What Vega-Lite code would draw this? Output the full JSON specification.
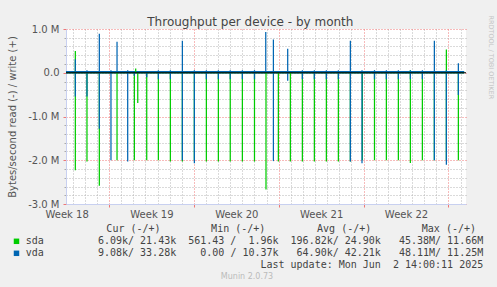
{
  "$schema": "https://vega.github.io/schema/vega-lite/v6.json",
  "background": "#f0f0f0",
  "padding": {"left": 7, "top": 14, "right": 5, "bottom": 6},
  "spacing": 3,
  "title": {"text": "Throughput per device - by month", "font": "DejaVu Sans", "fontSize": 12, "fontWeight": "normal", "color": "#444444", "anchor": "middle", "offset": -14},
  "config": {
    "view": {"stroke": null},
    "axis": {"labelFont": "DejaVu Sans", "labelFontSize": 10, "labelColor": "#555555", "titleFont": "DejaVu Sans", "titleFontSize": 10, "titleFontWeight": "normal", "titleColor": "#555555", "domainColor": "#c8d0f0"}
  },
  "datasets": {
    "base": [
      {"d": -3.55, "s": "sda", "k": "w", "v": 15000}, {"d": 29.3, "s": "sda", "k": "w", "v": 15000},
      {"d": -3.55, "s": "sda", "k": "r", "v": -3000}, {"d": 29.3, "s": "sda", "k": "r", "v": -3000},
      {"d": -3.55, "s": "vda", "k": "w", "v": 28000}, {"d": 29.3, "s": "vda", "k": "w", "v": 28000},
      {"d": -3.55, "s": "vda", "k": "r", "v": -4000}, {"d": 29.3, "s": "vda", "k": "r", "v": -4000}
    ],
    "spikes": [
      {"d": -2.78, "s": "sda", "v": -2230000}, {"d": -1.82, "s": "sda", "v": -2030000}, {"d": -0.8, "s": "sda", "v": -2580000},
      {"d": 0.66, "s": "sda", "v": -2000000}, {"d": 2.09, "s": "sda", "v": -2000000}, {"d": 2.37, "s": "sda", "v": -690000},
      {"d": 3.11, "s": "sda", "v": -2000000}, {"d": 4.07, "s": "sda", "v": -2000000}, {"d": 5.06, "s": "sda", "v": -2030000},
      {"d": 6.05, "s": "sda", "v": -2030000}, {"d": 7.04, "s": "sda", "v": -2000000}, {"d": 8.03, "s": "sda", "v": -2030000},
      {"d": 9.02, "s": "sda", "v": -2030000}, {"d": 10.0, "s": "sda", "v": -2030000}, {"d": 11.0, "s": "sda", "v": -2030000},
      {"d": 12.0, "s": "sda", "v": -2030000}, {"d": 12.95, "s": "sda", "v": -2670000}, {"d": 13.97, "s": "sda", "v": -2030000},
      {"d": 14.96, "s": "sda", "v": -2030000}, {"d": 15.95, "s": "sda", "v": -2030000}, {"d": 16.94, "s": "sda", "v": -2030000},
      {"d": 17.93, "s": "sda", "v": -2030000}, {"d": 18.92, "s": "sda", "v": -2030000}, {"d": 19.91, "s": "sda", "v": -2030000},
      {"d": 20.9, "s": "sda", "v": -2000000}, {"d": 21.9, "s": "sda", "v": -2000000}, {"d": 22.88, "s": "sda", "v": -2000000},
      {"d": 23.87, "s": "sda", "v": -2000000}, {"d": 24.86, "s": "sda", "v": -2060000}, {"d": 25.85, "s": "sda", "v": -2000000},
      {"d": 26.84, "s": "sda", "v": -2000000}, {"d": 27.83, "s": "sda", "v": -2000000}, {"d": 28.82, "s": "sda", "v": -2000000},
      {"d": -2.78, "s": "sda", "v": 500000}, {"d": 2.2, "s": "sda", "v": 100000}, {"d": 24.86, "s": "sda", "v": 60000}, {"d": 27.83, "s": "sda", "v": 530000},
      {"d": -2.78, "s": "vda", "v": -540000}, {"d": -1.82, "s": "vda", "v": -540000}, {"d": -0.8, "s": "vda", "v": -1280000},
      {"d": 0.16, "s": "vda", "v": -2000000}, {"d": 1.54, "s": "vda", "v": -2030000}, {"d": 2.09, "s": "vda", "v": -70000},
      {"d": 3.11, "s": "vda", "v": -100000}, {"d": 4.07, "s": "vda", "v": -150000}, {"d": 5.06, "s": "vda", "v": -150000},
      {"d": 6.05, "s": "vda", "v": -2000000}, {"d": 7.04, "s": "vda", "v": -2070000}, {"d": 8.03, "s": "vda", "v": -150000},
      {"d": 9.02, "s": "vda", "v": -150000}, {"d": 10.0, "s": "vda", "v": -150000}, {"d": 11.0, "s": "vda", "v": -150000},
      {"d": 12.0, "s": "vda", "v": -150000}, {"d": 13.56, "s": "vda", "v": -2020000}, {"d": 14.74, "s": "vda", "v": -180000},
      {"d": 15.95, "s": "vda", "v": -150000}, {"d": 16.94, "s": "vda", "v": -150000}, {"d": 17.93, "s": "vda", "v": -150000},
      {"d": 18.92, "s": "vda", "v": -150000}, {"d": 19.91, "s": "vda", "v": -2030000}, {"d": 20.87, "s": "vda", "v": -2070000},
      {"d": 21.9, "s": "vda", "v": -150000}, {"d": 22.88, "s": "vda", "v": -150000}, {"d": 23.87, "s": "vda", "v": -150000},
      {"d": 24.86, "s": "vda", "v": -150000}, {"d": 25.85, "s": "vda", "v": -150000}, {"d": 26.84, "s": "vda", "v": -2000000},
      {"d": 27.83, "s": "vda", "v": -2100000}, {"d": 28.82, "s": "vda", "v": -510000},
      {"d": -2.78, "s": "vda", "v": 310000}, {"d": -1.82, "s": "vda", "v": 60000}, {"d": -0.8, "s": "vda", "v": 890000},
      {"d": 0.16, "s": "vda", "v": 60000}, {"d": 0.66, "s": "vda", "v": 710000}, {"d": 1.54, "s": "vda", "v": 60000},
      {"d": 4.07, "s": "vda", "v": 60000}, {"d": 5.06, "s": "vda", "v": 60000}, {"d": 6.05, "s": "vda", "v": 730000},
      {"d": 7.04, "s": "vda", "v": 60000}, {"d": 8.03, "s": "vda", "v": 60000}, {"d": 9.02, "s": "vda", "v": 60000},
      {"d": 10.0, "s": "vda", "v": 60000}, {"d": 11.0, "s": "vda", "v": 60000}, {"d": 12.0, "s": "vda", "v": 60000},
      {"d": 12.93, "s": "vda", "v": 930000}, {"d": 13.56, "s": "vda", "v": 760000}, {"d": 14.74, "s": "vda", "v": 550000},
      {"d": 15.95, "s": "vda", "v": 60000}, {"d": 16.94, "s": "vda", "v": 60000}, {"d": 17.93, "s": "vda", "v": 60000},
      {"d": 18.92, "s": "vda", "v": 60000}, {"d": 19.91, "s": "vda", "v": 730000}, {"d": 20.87, "s": "vda", "v": 60000},
      {"d": 21.9, "s": "vda", "v": 60000}, {"d": 22.88, "s": "vda", "v": 60000}, {"d": 23.87, "s": "vda", "v": 60000},
      {"d": 24.86, "s": "vda", "v": 60000}, {"d": 25.85, "s": "vda", "v": 60000}, {"d": 26.84, "s": "vda", "v": 730000},
      {"d": 27.83, "s": "vda", "v": 60000}, {"d": 28.82, "s": "vda", "v": 220000}
    ],
    "legend": [
      {"c": 13.4, "r": 0, "t": "Cur (-/+)", "g": "L"}, {"c": 30.8, "r": 0, "t": "Min (-/+)", "g": "L"},
      {"c": 48.4, "r": 0, "t": "Avg (-/+)", "g": "L"}, {"c": 65.8, "r": 0, "t": "Max (-/+)", "g": "L"},
      {"c": 0, "r": 1, "t": "sda", "g": "L"}, {"c": 0, "r": 2, "t": "vda", "g": "L"},
      {"c": 18, "r": 1, "t": "6.09k/", "g": "R"}, {"c": 25, "r": 1, "t": "21.43k", "g": "R"},
      {"c": 35, "r": 1, "t": "561.43 /", "g": "R"}, {"c": 42, "r": 1, "t": "1.96k", "g": "R"},
      {"c": 52, "r": 1, "t": "196.82k/", "g": "R"}, {"c": 59, "r": 1, "t": "24.90k", "g": "R"},
      {"c": 69, "r": 1, "t": "45.38M/", "g": "R"}, {"c": 76, "r": 1, "t": "11.66M", "g": "R"},
      {"c": 18, "r": 2, "t": "9.08k/", "g": "R"}, {"c": 25, "r": 2, "t": "33.28k", "g": "R"},
      {"c": 35, "r": 2, "t": "0.00 /", "g": "R"}, {"c": 42, "r": 2, "t": "10.37k", "g": "R"},
      {"c": 52, "r": 2, "t": "64.90k/", "g": "R"}, {"c": 59, "r": 2, "t": "42.21k", "g": "R"},
      {"c": 69, "r": 2, "t": "48.11M/", "g": "R"}, {"c": 76, "r": 2, "t": "11.25M", "g": "R"},
      {"c": 59, "r": 3, "t": "Last update: Mon Jun", "g": "R"}, {"c": 76, "r": 3, "t": "2 14:00:11 2025", "g": "R"},
      {"c": -1.53, "r": 1, "s": "sda", "g": "S"}, {"c": -1.53, "r": 2, "s": "vda", "g": "S"},
      {"c": 36.76, "r": 4, "t": "Munin 2.0.73", "g": "M"}
    ]
  },
  "vconcat": [
    {
      "width": 400,
      "height": 175,
      "view": {"fill": "white", "stroke": null},
      "resolve": {"axis": {"x": "independent", "y": "independent"}},
      "layer": [
        {
          "data": {"name": "base"},
          "mark": {"type": "line", "strokeWidth": 1},
          "encoding": {
            "x": {"field": "d", "type": "quantitative", "scale": {"domain": [-3.55, 29.45], "nice": false, "zero": false},
                  "axis": {"orient": "bottom", "values": [-3, -2, -1, 1, 2, 3, 4, 5, 6, 8, 9, 10, 11, 12, 13, 15, 16, 17, 18, 19, 20, 22, 23, 24, 25, 26, 27, 29],
                           "grid": true, "gridColor": "#b4b4b4", "gridDash": [1, 2], "labels": false, "ticks": false, "domain": false, "title": null}},
            "y": {"field": "v", "type": "quantitative", "scale": {"domain": [-3000000, 1000000], "nice": false, "zero": false},
                  "axis": {"orient": "left", "values": [-2800000, -2600000, -2400000, -2200000, -1800000, -1600000, -1400000, -1200000, -800000, -600000, -400000, -200000, 200000, 400000, 600000, 800000],
                           "grid": true, "gridColor": "#b4b4b4", "gridDash": [1, 2], "labels": false, "ticks": true, "tickColor": "#aaaaaa", "tickSize": 2, "domain": false, "title": null}},
            "color": {"field": "s", "type": "nominal", "scale": {"domain": ["sda", "vda"], "range": ["#00cc00", "#0066b3"]}, "legend": null},
            "detail": {"field": "k"}
          }
        },
        {
          "data": {"name": "spikes"},
          "transform": [{"filter": "datum.s == 'sda'"}],
          "mark": {"type": "rule", "strokeWidth": 1.25},
          "encoding": {
            "x": {"field": "d", "type": "quantitative",
                  "axis": {"orient": "bottom", "values": [-3.5, 3.5, 10.5, 17.5, 24.5], "tickOffset": 42.4, "labelOffset": -42.4,
                           "labelExpr": "'Week ' + (18 + round((datum.value + 3.5) / 7))", "labelFlush": false, "labelOverlap": false,
                           "grid": true, "gridColor": "#ee7777", "gridDash": [1, 2], "ticks": true, "tickColor": "#ee7777", "tickSize": 3,
                           "domain": true, "labelPadding": 2, "title": null}},
            "y": {"field": "v", "type": "quantitative",
                  "axis": {"orient": "left", "values": [-3000000, -2000000, -1000000, 0, 1000000],
                           "labelExpr": "(datum.value < 0 ? '-' : '') + (datum.value == 0 ? '0.0' : format(abs(datum.value) / 1000000, '.1f') + ' M')",
                           "grid": true, "gridColor": "#ee7777", "gridDash": [1, 2], "ticks": true, "tickColor": "#ee7777", "tickSize": 3,
                           "domain": true, "labelPadding": 4, "title": "Bytes/second read (-) / write (+)", "titlePadding": 10}},
            "y2": {"datum": 0},
            "color": {"field": "s", "type": "nominal", "legend": null}
          }
        },
        {
          "data": {"name": "spikes"},
          "transform": [{"filter": "datum.s == 'vda'"}],
          "mark": {"type": "rule", "strokeWidth": 1.25},
          "encoding": {
            "x": {"field": "d", "type": "quantitative", "axis": null},
            "y": {"field": "v", "type": "quantitative", "axis": null},
            "y2": {"datum": 0},
            "color": {"field": "s", "type": "nominal", "legend": null}
          }
        },
        {
          "data": {"values": [{}]},
          "mark": {"type": "rule", "color": "#000000", "strokeWidth": 1},
          "encoding": {
            "y": {"datum": 0, "axis": {"orient": "right", "labels": false, "ticks": false, "domain": false, "grid": false,
                                        "title": "RRDTOOL / TOBI OETIKER", "titleFontSize": 6.5, "titleColor": "#c4c4c4",
                                        "titleAngle": 90, "titleY": -14, "titleAlign": "left", "titlePadding": 21}}
          }
        }
      ]
    },
    {
      "width": 400,
      "height": 60,
      "data": {"name": "legend"},
      "layer": [
        {
          "transform": [{"filter": "datum.g == 'L'"}],
          "mark": {"type": "text", "align": "left", "baseline": "middle", "font": "DejaVu Sans Mono", "fontSize": 10, "color": "#444444"},
          "encoding": {
            "x": {"field": "c", "type": "quantitative", "scale": {"domain": [6.694, 73.14], "nice": false, "zero": false}, "axis": null},
            "y": {"field": "r", "type": "quantitative", "scale": {"domain": [-0.608, 4.392], "nice": false, "zero": false, "reverse": true}, "axis": null},
            "text": {"field": "t"}
          }
        },
        {
          "transform": [{"filter": "datum.g == 'R'"}],
          "mark": {"type": "text", "align": "right", "baseline": "middle", "font": "DejaVu Sans Mono", "fontSize": 10, "color": "#444444"},
          "encoding": {
            "x": {"field": "c", "type": "quantitative", "axis": null},
            "y": {"field": "r", "type": "quantitative", "axis": null},
            "text": {"field": "t"}
          }
        },
        {
          "transform": [{"filter": "datum.g == 'S'"}],
          "mark": {"type": "point", "shape": "square", "filled": true, "size": 30, "opacity": 1},
          "encoding": {
            "x": {"field": "c", "type": "quantitative", "axis": null},
            "y": {"field": "r", "type": "quantitative", "axis": null},
            "color": {"field": "s", "type": "nominal", "legend": null}
          }
        },
        {
          "transform": [{"filter": "datum.g == 'M'"}],
          "mark": {"type": "text", "align": "center", "baseline": "middle", "font": "DejaVu Sans", "fontSize": 8, "color": "#bbbbbb"},
          "encoding": {
            "x": {"field": "c", "type": "quantitative", "axis": null},
            "y": {"field": "r", "type": "quantitative", "axis": null},
            "text": {"field": "t"}
          }
        }
      ]
    }
  ]
}
